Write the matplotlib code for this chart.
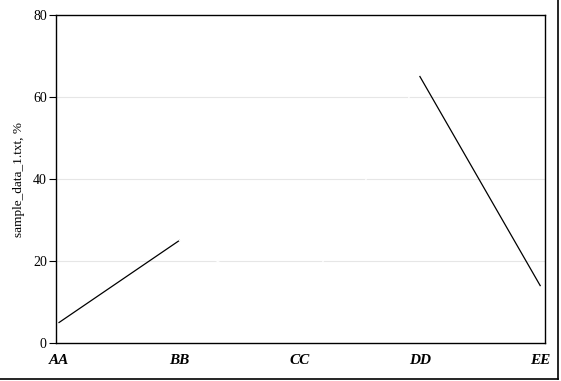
import matplotlib
matplotlib.use("Agg")
import matplotlib.pyplot as plt
from matplotlib.lines import Line2D

# categories and values
categories = ["AA", "BB", "CC", "DD", "EE"]
values = [5, 25, 9, 65, 14]
# colour of each segment (segment i goes from point i to point i+1)
segment_colors = ["black", "white", "white", "black"]
y_ticks = [0, 20, 40, 60, 80]

plt.rcParams['font.family'] = ['Liberation Serif', 'DejaVu Serif']

fig = plt.figure(figsize=(5.61, 3.81), dpi=100)
ax = fig.add_axes([0.1007, 0.0997, 0.8708, 0.8609])

x = list(range(len(categories)))

# light grid lines
for yv in y_ticks[1:-1]:
    ax.axhline(yv, color="#e6e6e6", linewidth=0.8, zorder=1)

# line drawn one segment at a time so each can have its own colour
for i, col in enumerate(segment_colors):
    ax.plot(x[i:i + 2], values[i:i + 2], color=col, linewidth=0.9, zorder=3)

ax.set_xlim(-0.021, 4.04)
ax.set_ylim(0, 80)
ax.set_yticks(y_ticks)
ax.set_yticklabels([str(v) for v in y_ticks], fontsize=10)
ax.tick_params(axis="y", direction="out", length=5, width=0.8, pad=2)

ax.set_xticks(x)
ax.set_xticklabels(categories, fontsize=11, fontweight="bold", fontstyle="italic")
ax.tick_params(axis="x", length=0, pad=8)

ax.set_ylabel("sample_data_1.txt, %", fontsize=9.5, labelpad=6)

for sp in ax.spines.values():
    sp.set_linewidth(1.0)
    sp.set_color("black")

# frame on right and bottom of the picture
fig.add_artist(Line2D([0, 0.995], [0.006, 0.006], transform=fig.transFigure, color="black", linewidth=1.2))
fig.add_artist(Line2D([0.995, 0.995], [0.006, 1.0], transform=fig.transFigure, color="black", linewidth=1.2))

fig.savefig("out.png", dpi=100)
